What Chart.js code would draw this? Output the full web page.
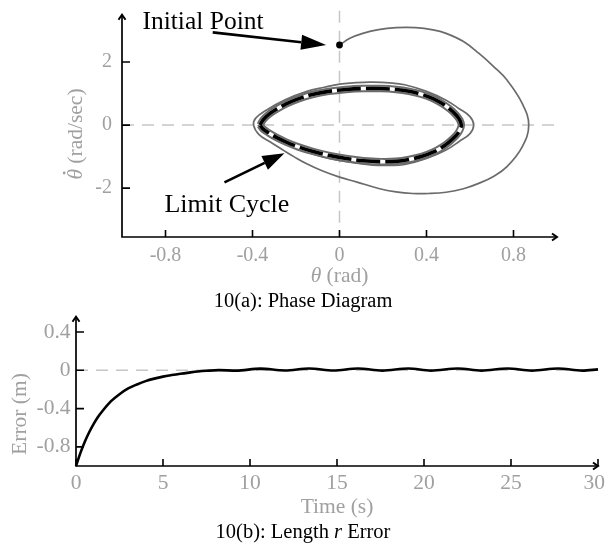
<!DOCTYPE html>
<html><head><meta charset="utf-8">
<script src="https://cdn.jsdelivr.net/npm/chart.js@4/dist/chart.umd.min.js"></script>
<style>
html,body{margin:0;padding:0;background:#fff;width:605px;height:543px;overflow:hidden;}
#a{position:absolute;left:0;top:0;}
#b{position:absolute;left:0;top:305px;}
</style></head><body>
<canvas id="a" width="605" height="315"></canvas>
<canvas id="b" width="605" height="238"></canvas>
<script>
// ---------- data: phase diagram ----------
const phaseXTicks = [-0.8, -0.4, 0, 0.4, 0.8];
const phaseYTicks = [-2, 0, 2];
const initTheta = [0];
const initThetaDot = [2.54];
const transientTheta = [0, 0.05, 0.107, 0.18, 0.26, 0.35, 0.43, 0.49, 0.57, 0.64, 0.71, 0.77, 0.84, 0.87, 0.84, 0.77, 0.71, 0.64, 0.57, 0.49, 0.41, 0.337, 0.26, 0.18, 0.077, 0, -0.08, -0.153, -0.21, -0.26, -0.32, -0.37, -0.395, -0.385, -0.337, -0.25, -0.153, -0.07, 0, 0.08, 0.153, 0.23, 0.3, 0.4, 0.49, 0.55, 0.6, 0.617, 0.6, 0.55, 0.49, 0.4, 0.3, 0.23, 0.153, 0.07, 0, -0.08, -0.15, -0.22, -0.28, -0.33, -0.36, -0.375];
const transientThetaDot = [2.54, 2.76, 2.91, 3.03, 3.09, 3.09, 3.02, 2.91, 2.65, 2.28, 1.85, 1.43, 0.69, 0, -0.69, -1.32, -1.62, -1.85, -2.02, -2.13, -2.17, -2.17, -2.12, -2.01, -1.8, -1.65, -1.45, -1.22, -1.0, -0.79, -0.53, -0.3, 0, 0.22, 0.47, 0.8, 1.06, 1.2, 1.3, 1.35, 1.36, 1.34, 1.28, 1.07, 0.79, 0.52, 0.27, 0, -0.27, -0.52, -0.79, -1.06, -1.25, -1.28, -1.27, -1.2, -1.12, -1.0, -0.85, -0.68, -0.5, -0.3, -0.15, 0];
const limitTheta = [-0.365, -0.352, -0.325, -0.29, -0.245, -0.19, -0.125, -0.05, 0.03, 0.11, 0.19, 0.26, 0.32, 0.38, 0.43, 0.47, 0.505, 0.535, 0.553, 0.56, 0.553, 0.535, 0.505, 0.47, 0.43, 0.38, 0.32, 0.26, 0.19, 0.11, 0.03, -0.05, -0.125, -0.19, -0.245, -0.29, -0.325, -0.352, -0.365];
const limitThetaDot = [0, 0.16, 0.34, 0.5, 0.67, 0.83, 0.97, 1.07, 1.13, 1.16, 1.16, 1.13, 1.07, 0.97, 0.84, 0.69, 0.52, 0.33, 0.16, 0, -0.16, -0.34, -0.53, -0.71, -0.86, -0.99, -1.09, -1.15, -1.16, -1.13, -1.06, -0.96, -0.83, -0.69, -0.54, -0.39, -0.25, -0.12, 0];

// ---------- data: length error ----------
const timeTicks = [0, 5, 10, 15, 20, 25, 30];
const errorTicks = [-0.8, -0.4, 0, 0.4];
const timeS = [0, 0.25, 0.5, 0.75, 1.0, 1.25, 1.5, 2.0, 2.5, 3.0, 3.5, 4.0, 4.5, 5.0, 5.5, 6.0, 6.5, 7.0, 7.5, 8.2, 9.2, 10.6, 12.0, 13.4, 14.8, 16.2, 17.6, 19.1, 20.4, 21.95, 23.3, 24.8, 26.2, 27.7, 29.1, 30];
const errorM = [-1, -0.865, -0.75, -0.65, -0.565, -0.49, -0.43, -0.325, -0.25, -0.19, -0.148, -0.113, -0.087, -0.066, -0.05, -0.036, -0.024, -0.013, -0.005, 0.002, -0.003, 0.017, -0.002, 0.019, -0.002, 0.019, -0.003, 0.019, -0.003, 0.019, -0.003, 0.019, -0.003, 0.019, -0.003, 0.01];

const pts = (xs, ys) => xs.map((x, i) => ({x: x, y: ys[i]}));

const FONT = '"Liberation Serif", "Times New Roman", serif';
const GREY_TXT = '#a0a0a0';
const TRAJ = '#6b6b6b';

function font(size, italic) { return (italic ? 'italic ' : '') + size + 'px ' + FONT; }

function drawSegs(ctx, segs, x, y, size, color, align, rotate) {
  ctx.save();
  ctx.translate(x, y);
  if (rotate) ctx.rotate(-Math.PI / 2);
  ctx.fillStyle = color;
  ctx.textBaseline = 'middle';
  ctx.textAlign = 'left';
  let total = 0;
  const ws = segs.map(s => { ctx.font = font(size, s.i); const w = ctx.measureText(s.t).width; total += w; return w; });
  let cur = align === 'center' ? -total / 2 : 0;
  segs.forEach((s, k) => {
    ctx.font = font(size, s.i);
    ctx.fillText(s.t, cur, 0);
    if (s.dot) {
      ctx.beginPath();
      ctx.arc(cur + ws[k] * 0.62, -size * 0.55, size * 0.065, 0, Math.PI * 2);
      ctx.fill();
    }
    cur += ws[k];
  });
  ctx.restore();
}

function arrow(ctx, x0, y0, x1, y1, len, hw, lw) {
  const a = Math.atan2(y1 - y0, x1 - x0);
  const bx = x1 - len * Math.cos(a), by = y1 - len * Math.sin(a);
  ctx.save();
  ctx.strokeStyle = '#000'; ctx.fillStyle = '#000'; ctx.lineWidth = lw;
  ctx.beginPath(); ctx.moveTo(x0, y0); ctx.lineTo(bx, by); ctx.stroke();
  ctx.beginPath();
  ctx.moveTo(x1, y1);
  ctx.lineTo(bx + hw * Math.sin(a), by - hw * Math.cos(a));
  ctx.lineTo(bx - hw * Math.sin(a), by + hw * Math.cos(a));
  ctx.closePath(); ctx.fill();
  ctx.restore();
}

function axesFrame(ctx, xs, ys, xMin, xMax, yMin, yMax, xTicks, yTicks) {
  const x0 = xs.getPixelForValue(xMin), x1 = xs.getPixelForValue(xMax);
  const y0 = ys.getPixelForValue(yMin), y1 = ys.getPixelForValue(yMax);
  ctx.save();
  ctx.strokeStyle = '#000';
  ctx.lineWidth = 1.7;
  ctx.lineCap = 'butt';
  ctx.beginPath();
  ctx.moveTo(x0, y1); ctx.lineTo(x0, y0); ctx.lineTo(x1, y0);
  ctx.stroke();
  ctx.lineWidth = 2;
  ctx.beginPath();
  ctx.moveTo(x0 - 3.5, y1 + 5); ctx.lineTo(x0, y1); ctx.lineTo(x0 + 3.5, y1 + 5);
  ctx.moveTo(x1 - 5, y0 - 3.5); ctx.lineTo(x1, y0); ctx.lineTo(x1 - 5, y0 + 3.5);
  ctx.stroke();
  ctx.lineWidth = 1.6;
  ctx.beginPath();
  xTicks.forEach(v => { const p = xs.getPixelForValue(v); ctx.moveTo(p, y0); ctx.lineTo(p, y0 - 7); });
  yTicks.forEach(v => { const p = ys.getPixelForValue(v); ctx.moveTo(x0, p); ctx.lineTo(x0 + 8, p); });
  ctx.stroke();
  ctx.restore();
}

function tickLabels(ctx, xs, ys, xTicks, yTicks, xOff, yOff, size) {
  const y0 = ys.getPixelForValue(ys.min), x0 = xs.getPixelForValue(xs.min);
  const W = ctx.canvas.width;
  ctx.save();
  ctx.fillStyle = GREY_TXT;
  ctx.font = font(size, false);
  ctx.textBaseline = 'middle';
  ctx.textAlign = 'center';
  xTicks.forEach(v => {
    const s = String(v), w = ctx.measureText(s).width;
    let p = xs.getPixelForValue(v);
    if (p + w / 2 > W) p = W - w / 2;
    ctx.fillText(s, p, y0 + yOff);
  });
  ctx.textAlign = 'right';
  yTicks.forEach(v => ctx.fillText(String(v), x0 - xOff, ys.getPixelForValue(v)));
  ctx.restore();
}

const zeroLines = (drawVertical) => ({
  id: 'zero',
  beforeDatasetsDraw(chart) {
    const ctx = chart.ctx, xs = chart.scales.x, ys = chart.scales.y;
    ctx.save();
    ctx.strokeStyle = '#c6c6c6';
    ctx.lineWidth = 1.5;
    ctx.setLineDash([12, 8]);
    ctx.beginPath();
    const yz = ys.getPixelForValue(0);
    ctx.moveTo(xs.getPixelForValue(xs.min), yz); ctx.lineTo(xs.getPixelForValue(xs.max), yz);
    if (drawVertical) {
      const xz = xs.getPixelForValue(0);
      ctx.moveTo(xz, ys.getPixelForValue(ys.max) - 4); ctx.lineTo(xz, ys.getPixelForValue(ys.min));
    }
    ctx.stroke();
    ctx.restore();
  }
});

const phaseDeco = {
  id: 'phaseDeco',
  afterDatasetsDraw(chart) {
    const ctx = chart.ctx, xs = chart.scales.x, ys = chart.scales.y;
    axesFrame(ctx, xs, ys, -1, 1, ys.min, ys.max, phaseXTicks, phaseYTicks);
    tickLabels(ctx, xs, ys, phaseXTicks, phaseYTicks, 10, 19, 20);
    const X = v => xs.getPixelForValue(v), Y = v => ys.getPixelForValue(v);
    drawSegs(ctx, [{t: 'θ', i: true}, {t: ' (rad)'}], (X(-1) + X(1)) / 2, 276, 21.5, GREY_TXT, 'center', false);
    drawSegs(ctx, [{t: 'θ', i: true, dot: true}, {t: ' (rad/sec)'}], 76, 134, 21.5, GREY_TXT, 'center', true);
    drawSegs(ctx, [{t: '10(a): Phase Diagram'}], 303, 302, 20.5, '#000', 'center', false);
    ctx.save();
    ctx.fillStyle = '#000';
    ctx.textBaseline = 'alphabetic';
    ctx.textAlign = 'left';
    ctx.font = font(25.5, false);
    ctx.fillText('Initial Point', X(-0.906), Y(3.04));
    ctx.font = font(26, false);
    ctx.fillText('Limit Cycle', X(-0.805), Y(-2.75));
    ctx.restore();
    arrow(ctx, X(-0.583), Y(2.94), X(-0.0616), Y(2.54), 25, 7.5, 2.6);
    arrow(ctx, X(-0.529), Y(-1.815), X(-0.253), Y(-0.895), 22, 7.5, 2.6);
  }
};

new Chart(document.getElementById('a'), {
  type: 'scatter',
  data: {
    datasets: [
      {data: pts(initTheta, initThetaDot), pointRadius: 3.4, pointBackgroundColor: '#000', pointBorderWidth: 0, showLine: false, order: 0},
      {data: pts(limitTheta, limitThetaDot), showLine: true, borderColor: '#000', borderWidth: 3.6, borderDash: [24, 5], pointRadius: 0, tension: 0.35, order: 1, clip: false},
      {data: pts(limitTheta, limitThetaDot), showLine: true, borderColor: '#fff', borderWidth: 3.6, pointRadius: 0, tension: 0.35, order: 2, clip: false},
      {data: pts(limitTheta, limitThetaDot), showLine: true, borderColor: TRAJ, borderWidth: 7.5, pointRadius: 0, tension: 0.35, order: 3, clip: false},
      {data: pts(transientTheta, transientThetaDot), showLine: true, borderColor: TRAJ, borderWidth: 1.7, pointRadius: 0, tension: 0.4, order: 4, clip: false}
    ]
  },
  options: {
    responsive: false, animation: false, devicePixelRatio: 1,
    layout: {padding: {left: 122, right: 48, top: 14.75, bottom: 78}},
    plugins: {legend: {display: false}, tooltip: {enabled: false}},
    scales: {
      x: {type: 'linear', min: -1, max: 1, display: false},
      y: {type: 'linear', min: -3.55, max: 3.5, display: false}
    }
  },
  plugins: [zeroLines(true), phaseDeco]
});

const errDeco = {
  id: 'errDeco',
  afterDatasetsDraw(chart) {
    const ctx = chart.ctx, xs = chart.scales.x, ys = chart.scales.y;
    axesFrame(ctx, xs, ys, 0, 30, -1, ys.max, timeTicks, []);
    ctx.save();
    ctx.strokeStyle = '#000'; ctx.lineWidth = 1.6; ctx.beginPath();
    errorTicks.forEach(v => { const p = ys.getPixelForValue(v); ctx.moveTo(xs.getPixelForValue(0), p); ctx.lineTo(xs.getPixelForValue(0) + 8, p); });
    ctx.stroke(); ctx.restore();
    tickLabels(ctx, xs, ys, timeTicks, errorTicks, 5.5, 17, 21.5);
    const X = v => xs.getPixelForValue(v);
    drawSegs(ctx, [{t: 'Time (s)'}], (X(0) + X(30)) / 2, 507.5 - 305, 21.5, GREY_TXT, 'center', false);
    drawSegs(ctx, [{t: 'Error (m)'}], 20, 414 - 305, 21.5, GREY_TXT, 'center', true);
    drawSegs(ctx, [{t: '10(b): Length '}, {t: 'r', i: true}, {t: ' Error'}], 303, 532.5 - 305, 20.5, '#000', 'center', false);
  }
};

new Chart(document.getElementById('b'), {
  type: 'line',
  data: {
    datasets: [
      {data: pts(timeS, errorM), borderColor: '#000', borderWidth: 2.6, pointRadius: 0, cubicInterpolationMode: 'monotone', clip: false}
    ]
  },
  options: {
    responsive: false, animation: false, devicePixelRatio: 1,
    layout: {padding: {left: 76, right: 7, top: 11.7, bottom: 77}},
    plugins: {legend: {display: false}, tooltip: {enabled: false}},
    scales: {
      x: {type: 'linear', min: 0, max: 30, display: false},
      y: {type: 'linear', min: -1, max: 0.56, display: false}
    }
  },
  plugins: [zeroLines(false), errDeco]
});
</script>
</body></html>
